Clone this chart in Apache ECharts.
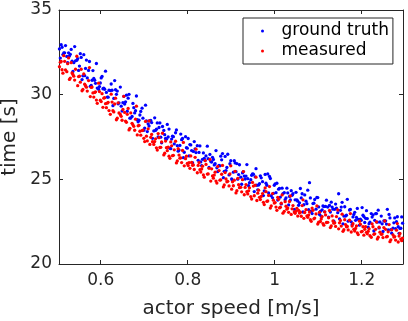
<!DOCTYPE html>
<html><head><meta charset="utf-8">
<script src="https://cdn.jsdelivr.net/npm/echarts@6/dist/echarts.min.js"></script>
<style>html,body{margin:0;padding:0;background:#fff}#c{width:408px;height:321px}</style>
</head><body><div id="c"></div>
<script>
const speeds = [
0.505,0.509,0.513,0.517,0.522,0.526,0.530,0.534,0.538,0.542,0.547,0.551,
0.555,0.559,0.563,0.567,0.572,0.576,0.580,0.584,0.588,0.592,0.597,0.601,
0.605,0.609,0.613,0.617,0.622,0.626,0.630,0.634,0.638,0.642,0.647,0.651,
0.655,0.659,0.663,0.667,0.672,0.676,0.680,0.684,0.688,0.692,0.697,0.701,
0.705,0.709,0.713,0.717,0.722,0.726,0.730,0.734,0.738,0.742,0.747,0.751,
0.755,0.759,0.763,0.767,0.772,0.776,0.780,0.784,0.788,0.792,0.797,0.801,
0.805,0.809,0.813,0.817,0.822,0.826,0.830,0.834,0.838,0.842,0.847,0.851,
0.855,0.859,0.863,0.867,0.872,0.876,0.880,0.884,0.888,0.892,0.897,0.901,
0.905,0.909,0.913,0.917,0.922,0.926,0.930,0.934,0.938,0.942,0.947,0.951,
0.955,0.959,0.963,0.967,0.972,0.976,0.980,0.984,0.988,0.992,0.997,1.001,
1.005,1.009,1.013,1.017,1.022,1.026,1.030,1.034,1.038,1.042,1.047,1.051,
1.055,1.059,1.063,1.067,1.072,1.076,1.080,1.084,1.088,1.092,1.097,1.101,
1.105,1.109,1.113,1.117,1.122,1.126,1.130,1.134,1.138,1.142,1.147,1.151,
1.155,1.159,1.163,1.167,1.172,1.176,1.180,1.184,1.188,1.192,1.197,1.201,
1.205,1.209,1.213,1.217,1.222,1.226,1.230,1.234,1.238,1.242,1.247,1.251,
1.255,1.259,1.263,1.267,1.272,1.276,1.280,1.284,1.288,1.292,
0.507,0.511,0.515,0.519,0.524,0.528,0.532,0.536,0.540,0.545,0.549,0.553,
0.557,0.561,0.565,0.569,0.574,0.578,0.582,0.586,0.590,0.595,0.599,0.603,
0.607,0.611,0.615,0.619,0.624,0.628,0.632,0.636,0.640,0.645,0.649,0.653,
0.657,0.661,0.665,0.669,0.674,0.678,0.682,0.686,0.690,0.695,0.699,0.703,
0.707,0.711,0.715,0.719,0.724,0.728,0.732,0.736,0.740,0.745,0.749,0.753,
0.757,0.761,0.765,0.769,0.774,0.778,0.782,0.786,0.790,0.795,0.799,0.803,
0.807,0.811,0.815,0.819,0.824,0.828,0.832,0.836,0.840,0.845,0.849,0.853,
0.857,0.861,0.865,0.869,0.874,0.878,0.882,0.886,0.890,0.895,0.899,0.903,
0.907,0.911,0.915,0.919,0.924,0.928,0.932,0.936,0.940,0.945,0.949,0.953,
0.957,0.961,0.965,0.969,0.974,0.978,0.982,0.986,0.990,0.995,0.999,1.003,
1.007,1.011,1.015,1.019,1.024,1.028,1.032,1.036,1.040,1.045,1.049,1.053,
1.057,1.061,1.065,1.069,1.074,1.078,1.082,1.086,1.090,1.095,1.099,1.103,
1.107,1.111,1.115,1.119,1.124,1.128,1.132,1.136,1.140,1.145,1.149,1.153,
1.157,1.161,1.165,1.169,1.174,1.178,1.182,1.186,1.190,1.195,1.199,1.203,
1.207,1.211,1.215,1.219,1.224,1.228,1.232,1.236,1.240,1.245,1.249,1.253,
1.257,1.261,1.265,1.269,1.274,1.278,1.282,1.286,1.290,1.294
];
const measured = [
31.65,31.96,31.27,31.97,31.36,32.17,30.98,31.28,31.09,31.50,30.53,31.09,
31.50,30.31,30.62,30.44,30.83,29.89,30.45,29.86,30.17,29.49,30.18,29.59,
29.25,29.82,29.23,29.55,28.84,29.56,28.98,29.79,28.61,28.92,28.72,29.13,
28.95,28.37,29.19,28.01,28.31,28.13,28.55,27.62,28.19,27.61,27.91,27.23,
27.55,27.98,27.06,27.65,27.06,27.39,26.73,27.46,26.89,27.72,26.54,26.87,
26.90,26.24,26.98,26.42,27.25,26.09,26.43,26.27,26.71,25.80,26.37,25.81,
25.65,26.00,25.85,26.30,25.39,25.99,25.43,25.78,25.13,25.88,25.32,26.17,
25.62,25.07,25.42,24.78,25.52,24.97,25.82,24.67,25.02,24.88,25.32,24.42,
24.62,25.47,24.33,24.68,24.53,24.98,24.09,24.69,24.14,24.50,23.84,24.60,
24.65,23.75,24.36,23.81,24.16,23.51,24.27,23.72,24.57,23.43,23.77,23.63,
23.17,23.82,23.35,24.08,23.11,23.41,23.30,23.69,22.93,23.45,22.99,23.29,
23.17,23.06,23.45,22.70,23.21,22.76,23.07,22.52,23.17,22.71,23.43,22.47,
22.51,22.80,22.29,22.90,22.46,23.16,22.25,22.54,22.43,22.80,22.08,22.57,
22.94,22.03,22.33,22.22,22.59,21.89,22.38,21.95,22.25,21.74,22.35,21.93,
21.70,22.20,21.78,22.08,21.58,22.20,21.78,22.48,21.58,21.88,21.77,22.15,
22.05,21.63,22.33,21.43,21.72,21.62,22.00,21.30,21.80,21.38,
31.92,31.47,32.30,31.46,31.83,30.90,31.89,31.19,30.86,32.27,31.07,30.74,
30.23,31.22,30.53,30.21,31.60,30.43,30.10,30.13,29.68,30.68,29.67,30.06,
29.79,29.47,29.50,29.06,30.03,29.05,29.45,28.52,29.52,28.83,28.49,29.90,
28.44,28.84,27.92,28.92,28.22,27.90,29.32,28.16,27.84,27.88,27.42,28.42,
27.27,28.45,27.48,27.22,27.23,26.86,27.70,26.88,27.21,26.44,27.26,26.69,
26.37,27.21,26.40,26.74,25.97,26.81,26.25,25.99,27.18,26.22,25.94,25.98,
26.38,25.83,25.58,26.78,25.82,25.57,25.61,25.26,26.11,25.31,25.65,24.90,
25.20,25.25,24.90,25.76,24.95,25.30,24.55,25.40,24.85,24.61,25.80,24.85,
24.95,24.20,25.06,24.51,24.26,25.46,24.52,24.27,24.32,23.98,24.82,24.03,
25.13,24.18,23.94,23.99,23.64,24.49,23.70,24.05,23.30,24.16,23.60,23.36,
23.94,23.31,23.59,23.00,23.68,23.24,23.05,24.02,23.26,23.07,23.11,22.83,
23.01,22.82,23.79,23.04,22.84,22.89,22.62,23.30,22.67,22.96,22.36,23.05,
22.66,22.39,23.08,22.45,22.73,22.15,22.84,22.41,22.22,23.19,22.43,22.24,
21.93,22.62,22.20,22.01,22.98,22.24,22.05,22.10,21.84,22.53,21.90,22.20,
22.05,21.87,21.93,21.67,22.37,21.75,22.05,21.47,22.17,21.75,21.56,22.54,
21.60,21.90,21.32,22.02,21.59,21.41,22.39,21.65,21.47,21.53
];
const groundTruth = [
32.70,32.95,32.37,32.47,32.26,32.47,32.38,31.98,31.89,32.00,32.13,31.69,
32.20,31.11,31.12,32.04,31.43,30.49,30.85,30.96,30.67,30.39,30.48,30.99,
30.35,30.32,30.13,29.85,30.24,30.26,29.78,30.29,30.21,29.52,29.32,29.53,
29.45,29.97,29.79,28.61,28.71,29.23,29.05,28.52,28.49,29.01,28.61,28.03,
28.45,28.28,28.46,28.35,27.86,27.89,28.33,28.06,27.49,28.12,27.64,27.37,
27.50,26.84,27.38,27.52,27.75,26.99,26.73,27.67,27.41,26.60,26.87,27.41,
27.05,26.70,26.65,26.80,26.99,26.59,26.03,26.18,26.23,26.38,26.22,26.47,
26.02,26.17,25.92,25.68,25.82,26.37,26.52,25.47,25.52,26.48,25.92,25.02,
25.42,25.97,25.93,25.28,25.13,25.38,25.19,25.19,25.04,24.80,25.24,25.30,
25.15,24.65,24.66,25.21,24.86,24.31,24.77,25.32,25.17,24.03,24.17,24.73,
24.77,24.42,23.95,24.48,24.21,23.91,24.20,23.99,24.33,24.15,23.79,23.79,
23.47,24.46,24.15,23.50,23.71,24.36,24.80,23.12,23.57,23.81,23.93,23.37,
23.11,23.20,23.39,23.40,23.36,23.46,23.65,23.24,23.23,23.30,24.15,23.17,
23.64,22.83,22.83,23.82,23.19,22.49,22.78,23.05,22.75,22.64,22.65,23.33,
22.80,22.70,22.68,22.38,22.98,22.90,22.58,22.98,23.18,22.48,22.37,22.55,
22.55,23.23,22.93,22.03,22.12,22.72,22.50,22.20,22.10,22.78,
32.16,32.80,32.46,32.90,31.89,32.28,32.67,31.37,32.84,32.03,31.43,32.42,
30.89,32.36,31.55,30.99,31.96,30.55,31.42,30.85,31.84,30.32,30.69,31.08,
30.39,31.39,29.86,30.26,30.63,29.35,30.83,30.02,29.46,30.45,29.03,29.90,
29.58,29.02,30.02,28.62,29.48,28.92,29.92,28.40,28.80,29.20,27.90,29.38,
27.82,28.15,28.48,27.42,28.63,27.96,27.50,28.33,27.16,27.89,27.41,28.24,
27.97,26.81,27.55,27.09,27.92,26.66,27.00,27.34,26.28,27.52,26.84,26.38,
27.03,25.98,27.23,26.58,26.12,26.97,25.81,26.56,26.11,26.96,25.70,26.05,
26.30,25.85,26.70,25.46,25.80,26.15,25.10,26.35,25.70,25.26,26.10,24.95,
26.10,25.45,25.01,25.86,24.71,25.46,25.02,25.87,24.62,24.98,25.32,24.28,
25.63,24.38,24.74,25.09,24.04,25.29,24.65,24.20,25.05,23.91,24.65,24.21,
23.78,24.47,23.55,24.16,23.80,24.48,23.49,23.78,24.06,23.23,24.23,23.71,
23.61,23.90,23.07,24.08,23.56,23.21,23.90,22.98,23.59,23.24,23.92,22.93,
22.82,23.43,23.08,23.77,22.77,23.07,23.36,22.53,23.54,23.03,22.67,23.36,
22.37,23.38,22.88,22.53,23.22,22.32,22.93,22.58,23.28,22.29,22.58,22.88,
22.45,23.15,22.17,22.47,22.77,21.95,22.97,22.47,22.13,22.83,21.92,22.54,
22.36,22.02,22.72,21.82,22.43,22.09,22.79,21.81,22.11,22.41
];
const xTicks = [0.6, 0.8, 1, 1.2];
const yTicks = [20, 25, 30, 35];
const seriesNames = ['ground truth', 'measured'];

const AX = '#262626';
const FONT = 'DejaVu Sans';
const chart = echarts.init(document.getElementById('c'), null, {renderer: 'canvas'});
const pair = ys => speeds.map((s, i) => [s, ys[i]]);
const xBase = {
  type: 'value', min: 0.504, max: 1.295,
  axisLine: {show: true, lineStyle: {color: AX, width: 1}},
  axisTick: {show: true, inside: true, length: 4, customValues: xTicks, lineStyle: {color: AX}},
  splitLine: {show: false}
};
const yBase = {
  type: 'value', min: yTicks[0], max: yTicks[yTicks.length - 1], interval: 5,
  axisLine: {show: true, lineStyle: {color: AX, width: 1}},
  axisTick: {show: true, inside: true, length: 4, lineStyle: {color: AX}},
  splitLine: {show: false}
};
chart.setOption({
  animation: false,
  backgroundColor: '#fff',
  grid: {left: 59, top: 10, right: 5, bottom: 57, containLabel: false, outerBoundsMode: 'none'},
  legend: {
    data: seriesNames, orient: 'vertical', left: 243, top: 18,
    icon: 'circle', itemWidth: 28, itemHeight: 3, itemGap: 0,
    padding: [3, 4, 3, 18], borderColor: AX, borderWidth: 1, backgroundColor: '#fff',
    textStyle: {fontFamily: FONT, fontSize: 17, color: '#000', lineHeight: 20}
  },
  xAxis: [
    Object.assign({}, xBase, {
      position: 'bottom',
      axisLabel: {show: true, customValues: xTicks, margin: 8, fontFamily: FONT, fontSize: 17, color: AX},
      name: 'actor speed [m/s]', nameLocation: 'middle', nameGap: 35,
      nameTextStyle: {fontFamily: FONT, fontSize: 20, color: AX}
    }),
    Object.assign({}, xBase, {position: 'top', axisLabel: {show: false}})
  ],
  yAxis: [
    Object.assign({}, yBase, {
      position: 'left',
      axisLabel: {show: true, margin: 7, fontFamily: FONT, fontSize: 17, color: AX},
      name: 'time [s]', nameLocation: 'middle', nameGap: 37,
      nameTextStyle: {fontFamily: FONT, fontSize: 20, color: AX}
    }),
    Object.assign({}, yBase, {position: 'right', axisLabel: {show: false}})
  ],
  series: [
    {name: seriesNames[0], type: 'scatter', symbol: 'circle', symbolSize: 3.3,
     itemStyle: {color: '#0000ff', opacity: 1}, data: pair(groundTruth)},
    {name: seriesNames[1], type: 'scatter', symbol: 'circle', symbolSize: 3.3,
     itemStyle: {color: '#ff0000', opacity: 1}, data: pair(measured)}
  ]
});
</script></body></html>
